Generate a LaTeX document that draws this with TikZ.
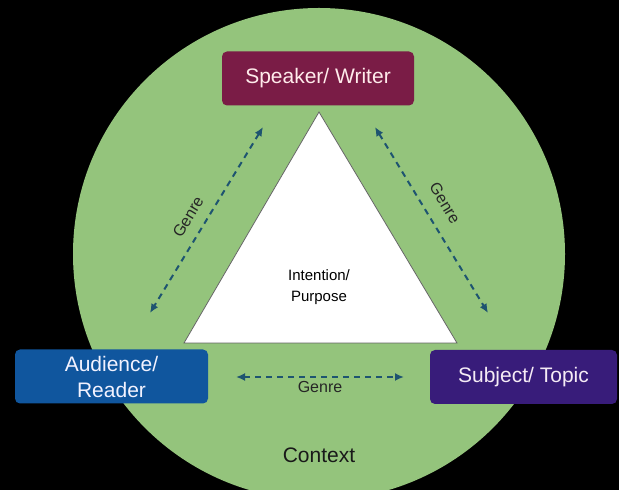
\documentclass[tikz,border=0pt]{standalone}
\usepackage{fontspec}
\setmainfont{Liberation Sans}
\usetikzlibrary{positioning}
\usetikzlibrary{calc}
\usetikzlibrary{arrows,arrows.meta}

\definecolor{ctxgreen}{RGB}{148,196,124}
\definecolor{spkred}{RGB}{122,28,70}
\definecolor{audblue}{RGB}{16,86,158}
\definecolor{subpurple}{RGB}{56,28,122}
\definecolor{arrowblue}{RGB}{30,84,112}

\begin{document}
\begin{tikzpicture}[x=1pt, y=1pt]
% ------------------------------------------------- 
\tikzset{
  base/.style={rounded corners=5pt, align=center, inner sep=0pt},
  role/.style={base, fill=#1, minimum height=54pt, font=\fontsize{21}{26}\selectfont},
  line/.style={draw=arrowblue, line width=2pt, dash pattern=on 6pt off 5pt,
    {Latex[length=9pt,width=8pt]}-{Latex[length=9pt,width=8pt]}},
  genre/.style={font=\fontsize{16}{18}\selectfont, text=black!85, inner sep=1pt}
}

\fill[black] (0,0) rectangle (619,490);
\useasboundingbox (0,0) rectangle (619,490);
\clip (0,0) rectangle (619,490);

% context circle and triangle
\fill[ctxgreen] (319,236) circle (246);
\node [font=\fontsize{21}{24}\selectfont, text=black!90] (ctx) at (319,35) {Context};

\coordinate (apex) at (319,378);
\coordinate (baseL) at (184,147);
\coordinate (baseR) at (457,147);
\draw[fill=white, draw=gray!80!black, line width=0.8pt] (apex) -- (baseR) -- (baseL) -- cycle;
\node [align=center, font=\fontsize{15}{21}\selectfont] (purp) at (319,203) {Intention/\\Purpose};

% the three roles
\node [role=spkred, minimum width=192pt, text=red!8] (spk) at (318,411.5) {Speaker/ Writer};
\node [role=audblue, minimum width=193pt, text=blue!5] (aud) at (111.5,113.5) {Audience/\\Reader};
\node [role=subpurple, minimum width=187pt, text=violet!8] (sub) at (523.5,113) {Subject/ Topic};

% genre arrows
\coordinate (spkL) at (263,363);
\coordinate (audT) at (150,177);
\coordinate (spkR) at (375,363);
\coordinate (subT) at (488,177);
\coordinate (audR) at (236,113);
\coordinate (subL) at (404,113);

\path [line] (spkL) -- (audT);
\path [line] (spkR) -- (subT);
\path [line] (audR) -- (subL);

\node [genre, rotate=59] (gl) at (188,273) {Genre};
\node [genre, rotate=-59] (gr) at (445,287) {Genre};
\node [genre, below=3pt of $(audR)!0.5!(subL)$] (gb) {Genre};

\end{tikzpicture}
\end{document}
